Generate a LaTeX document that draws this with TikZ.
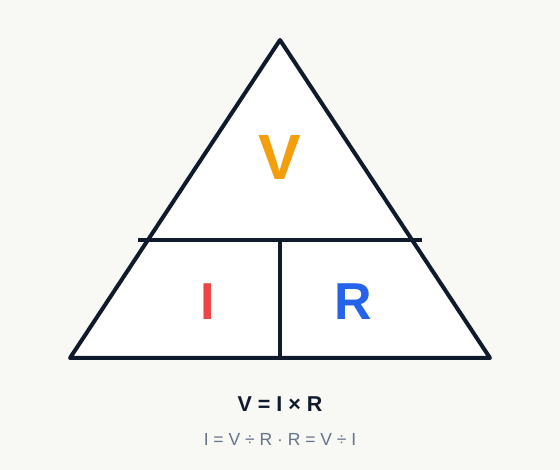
\documentclass[tikz,border=0pt]{standalone}
\usepackage{fontspec}
\setmainfont{Liberation Sans}
\definecolor{bg}{HTML}{F8F8F4}
\definecolor{ink}{HTML}{0F1B2D}
\definecolor{cv}{HTML}{F59E0B}
\definecolor{ci}{HTML}{EF4444}
\definecolor{cr}{HTML}{2563EB}
\definecolor{muted}{HTML}{64748B}
\begin{document}
\begin{tikzpicture}[x=1pt,y=-1pt,
  edge/.style={draw=ink,line width=4pt},
  letter/.style={font=\fontsize{#1}{#1}\selectfont\bfseries,inner sep=0pt}]
\fill[bg] (0,0) rectangle (560,470);
\useasboundingbox (0,0) rectangle (560,470);
\coordinate (top) at (280,40);
\coordinate (bl) at (70,358);
\coordinate (br) at (490,358);
\coordinate (hl) at (138,240);
\coordinate (hr) at (422,240);
\coordinate (vt) at (280,240);
\coordinate (vb) at (280,358);
\fill[white] (top) -- (bl) -- (br) -- cycle;
\draw[edge] (hl) -- (hr);
\draw[edge] (vt) -- (vb);
\draw[edge,line join=round] (top) -- (bl) -- (br) -- cycle;
\node[letter=64,text=cv] (V) at (280,157) {V};
\node[letter=52,text=ci] (I) at (208,302) {I};
\node[letter=52,text=cr] (R) at (353,302) {R};
\node[font=\fontsize{21.5}{21.5}\selectfont\bfseries,text=ink,inner sep=0pt] (eq) at (280,404) {V = I × R};
\node[font=\fontsize{17.5}{17.5}\selectfont,text=muted,inner sep=0pt] (alt) at (280,439) {I = V ÷ R · R = V ÷ I};
\end{tikzpicture}
\end{document}
